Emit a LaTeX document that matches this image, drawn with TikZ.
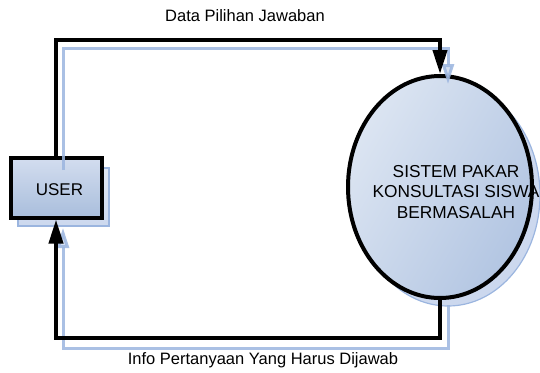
\documentclass[tikz,border=0pt]{standalone}
\usepackage{fontspec}
\setmainfont{Liberation Sans}
\usetikzlibrary{shapes.geometric,arrows.meta}
\definecolor{boxtop}{HTML}{D3DDEF}
\definecolor{boxbot}{HTML}{A9BEDC}
\definecolor{elltop}{HTML}{DCE5F2}
\definecolor{ellbot}{HTML}{B2C5E2}
\definecolor{shadowline}{HTML}{9BB5DF}
\definecolor{shadowfill}{HTML}{CCD8EE}
\tikzset{
  lbl/.style={font=\fontsize{16.5}{20}\selectfont, inner sep=0pt},
  entity/.style={rectangle, draw=black, line width=4pt, minimum width=91pt, minimum height=60pt,
    top color=boxtop, bottom color=boxbot, inner sep=0pt},
  process/.style={ellipse, draw=black, line width=4pt, minimum width=184pt, minimum height=222pt,
    left color=elltop, right color=ellbot, shading angle=60, inner sep=0pt},
  shadowbox/.style={rectangle, draw=shadowline, line width=1.5pt, minimum width=91pt, minimum height=58pt,
    top color=shadowfill!60!white, bottom color=shadowfill},
  shadowell/.style={ellipse, draw=shadowline, line width=1.2pt, minimum width=184pt, minimum height=222pt,
    fill=shadowfill},
  flow/.style={line width=4pt, -{Triangle[length=24pt,width=14pt]}},
  flowshadow/.style={line width=3pt, draw=shadowline, opacity=0.85,
    -{Triangle[length=20pt,width=12pt,fill=shadowline!50!white]}},
}
\begin{document}
\begin{tikzpicture}[x=1pt,y=-1pt]
\useasboundingbox (0,0) rectangle (540,372);
% drop shadows of the two shapes
\node[shadowbox] (usersh) at (63.5,197) {};
\node[shadowell] (syssh) at (448,195) {};
% external entity and process
\node[entity] (user) at (56,187.5) {};
\node[lbl, font=\fontsize{17}{20}\selectfont] (usertext) at (59.5,190) {USER};
\node[process] (sys) at (440,187) {};
\node[lbl, font=\fontsize{17.3}{20}\selectfont, align=center] (systext) at (456,192)
  {SISTEM PAKAR\\[0.5pt]KONSULTASI SISWA\\[0.5pt]BERMASALAH};
% coordinates for the routing of the flows
\coordinate (toprow) at (0,40);
\coordinate (toprowsh) at (0,48);
\coordinate (botrow) at (0,338);
\coordinate (botrowsh) at (0,348);
\coordinate (usin) at (63,170);
\coordinate (usbot) at (63,228);
\coordinate (sysin) at (448,84);
\coordinate (sysbot) at (448,305);
% shadow lines of the flows
\draw[flowshadow] (usin) -- (usin |- toprowsh) -- (sysin |- toprowsh) -- (sysin);
\draw[flowshadow] (sysbot) -- (sysbot |- botrowsh) -- (usbot |- botrowsh) -- (usbot);
% data flows
\draw[flow] (user.north) -- (user.north |- toprow) -- (sys.north |- toprow) -- (sys.north);
\draw[flow] (sys.south) -- (sys.south |- botrow) -- (user.south |- botrow) -- (user.south);
% flow labels
\node[lbl] (lbltop) at (245,16) {Data Pilihan Jawaban};
\node[lbl] (lblbot) at (263,360) {Info Pertanyaan Yang Harus Dijawab};
\end{tikzpicture}
\end{document}
